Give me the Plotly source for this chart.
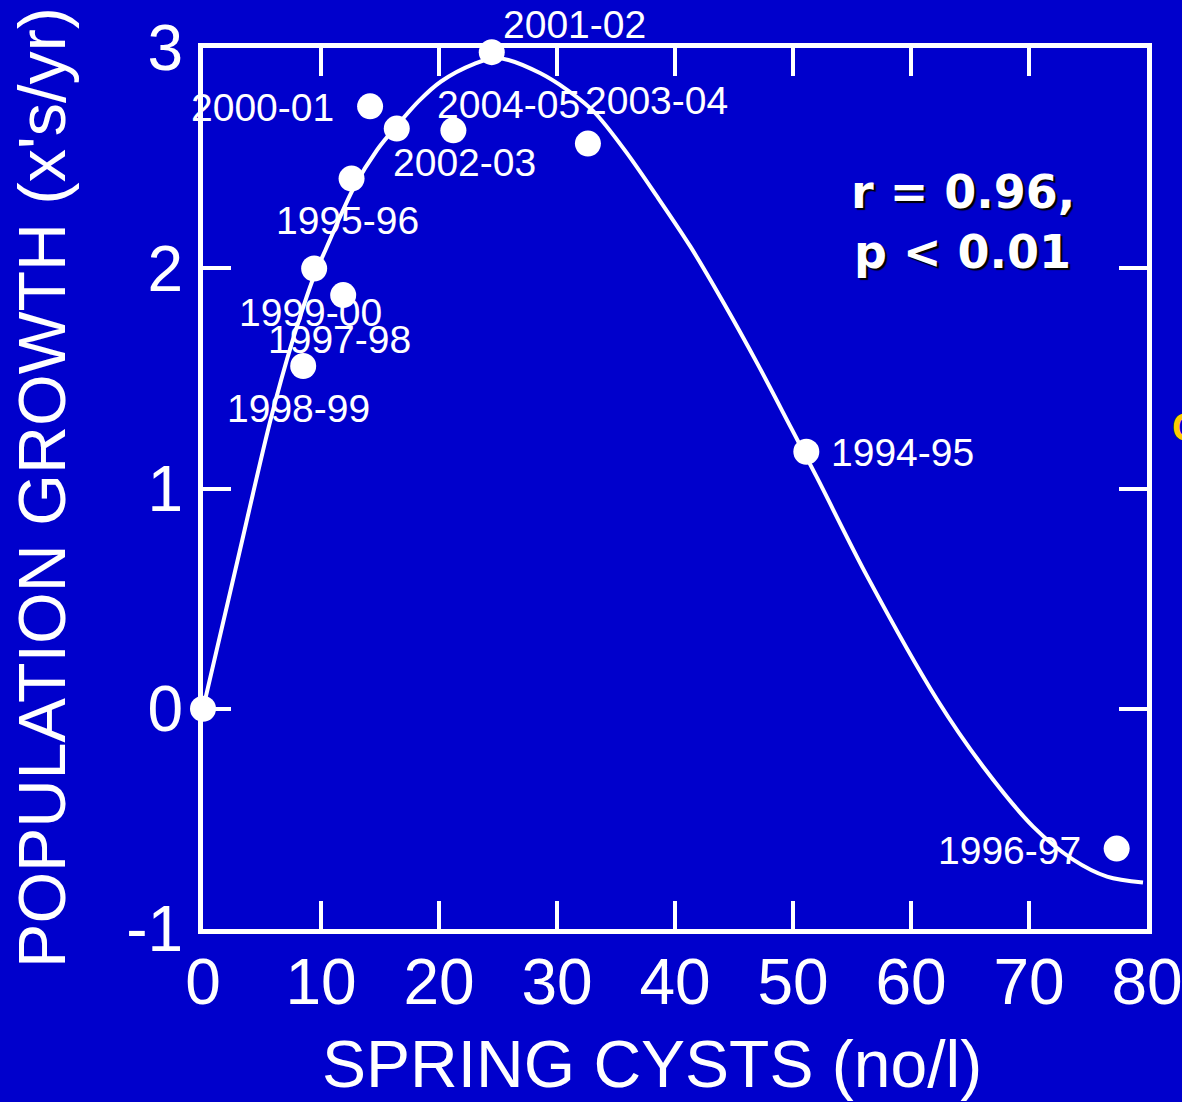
import plotly.graph_objects as go

# Observed seasons: spring cyst density vs. population growth
seasons = ["", "1998-99", "1999-00", "1997-98", "1995-96", "2000-01",
           "2002-03", "2004-05", "2001-02", "2003-04", "1994-95", "1996-97"]
cysts = [0, 8.49, 9.42, 11.88, 12.59, 14.16, 16.42, 21.22, 24.47, 32.62, 51.13, 77.43]
growth = [0, 1.556, 1.999, 1.878, 2.407, 2.735, 2.634, 2.626, 2.981, 2.566, 1.167, -0.635]

# Fitted response curve, sampled along its length
fit_x = [0, 3.07, 5.72, 7.58, 9.45, 10.38, 12.82, 14.75, 16.36, 18.3, 20.17,
         22.99, 24.9, 28.60, 32.84, 35.66, 38.49, 41.31, 44.14, 46.97, 49.84,
         52.05, 56.30, 62.22, 66.12, 70.35, 73.74, 76.61, 79.66]
fit_y = [0, 0.706, 1.311, 1.669, 1.969, 2.083, 2.37, 2.537, 2.643, 2.76, 2.848,
         2.928, 2.955, 2.885, 2.726, 2.542, 2.325, 2.098, 1.841, 1.568, 1.275,
         1.048, 0.600, 0.041, -0.263, -0.535, -0.685, -0.762, -0.789]

x_ticks = [0, 10, 20, 30, 40, 50, 60, 70, 80]
y_ticks = [-1, 0, 1, 2, 3]
y_tick_text = ["-1", "0", "1", "2", "3"]

stats_lines = ["r = 0.96,", "p < 0.01"]

BG = "#0000CC"
WHITE = "#FFFFFF"
SANS = "Liberation Sans, Arial, sans-serif"

# pixel offsets of each season label relative to its point
label_offsets = {
    "2001-02": (83, 28), "2000-01": (-108, -1), "2004-05": (55, 26),
    "2003-04": (69, 43), "2002-03": (68, -34), "1995-96": (-4, -42),
    "1999-00": (-4, -44), "1997-98": (-4, -44), "1998-99": (-5, -42),
    "1994-95": (96, -1), "1996-97": (-107, -2),
}

fig = go.Figure()

fig.add_trace(go.Scatter(
    x=fit_x, y=fit_y, mode="lines",
    line=dict(color=WHITE, width=4, shape="spline", smoothing=0.9),
    hoverinfo="skip", showlegend=False, cliponaxis=False,
))

fig.add_trace(go.Scatter(
    x=cysts, y=growth, mode="markers",
    marker=dict(color=WHITE, size=26, line=dict(width=0)),
    text=seasons, showlegend=False, cliponaxis=False,
))

annotations = []
for name, cx, gy in zip(seasons, cysts, growth):
    if not name:
        continue
    dx, dy = label_offsets[name]
    annotations.append(dict(
        x=cx, y=gy, xref="x", yref="y", text=name, showarrow=False,
        xshift=dx, yshift=dy, xanchor="center", yanchor="middle",
        font=dict(family=SANS, size=39, color=WHITE),
    ))

# statistics block
for txt, yy in zip(stats_lines, [0.836, 0.769]):
    annotations.append(dict(
        x=0.805, y=yy, xref="paper", yref="paper", text=txt, showarrow=False,
        xanchor="center", yanchor="middle",
        font=dict(family="DejaVu Sans, sans-serif", size=46, color=WHITE,
                  weight="bold", shadow="2px 2px 1px #000000"),
    ))

# axis titles
annotations.append(dict(
    x=0.4756, y=-0.153, xref="paper", yref="paper",
    text="SPRING CYSTS (no/l)", showarrow=False,
    xanchor="center", yanchor="middle",
    font=dict(family=SANS, size=66, color=WHITE),
))
annotations.append(dict(
    x=-0.1706, y=0.5017, xref="paper", yref="paper",
    text="POPULATION GROWTH (x's/yr)", showarrow=False, textangle=-90,
    xanchor="center", yanchor="middle",
    font=dict(family=SANS, size=66.5, color=WHITE),
))

# partly visible glyph at the right edge
annotations.append(dict(
    x=1.0244, y=0.5698, xref="paper", yref="paper", text="C", showarrow=False,
    xanchor="left", yanchor="middle",
    font=dict(family=SANS, size=40, color="#FFCC00", weight="bold"),
))

axis_common = dict(
    showgrid=False, zeroline=False, showline=True, linecolor=WHITE,
    linewidth=5, mirror="ticks", ticks="inside", ticklen=28, tickwidth=4,
    tickcolor=WHITE, tickfont=dict(family=SANS, size=64, color=WHITE),
    ticklabeloverflow="allow", automargin=False,
)

fig.update_layout(
    width=1182, height=1102,
    margin=dict(l=203, r=35, t=48, b=173, autoexpand=False),
    paper_bgcolor=BG, plot_bgcolor=BG,
    showlegend=False,
    xaxis=dict(range=[0, 80], tickvals=x_ticks, ticklabelstandoff=-7, **axis_common),
    yaxis=dict(range=[-1, 3], tickvals=y_ticks, ticktext=y_tick_text,
               ticklabelstandoff=2, **axis_common),
    annotations=annotations,
)

fig.write_html("out.html")
